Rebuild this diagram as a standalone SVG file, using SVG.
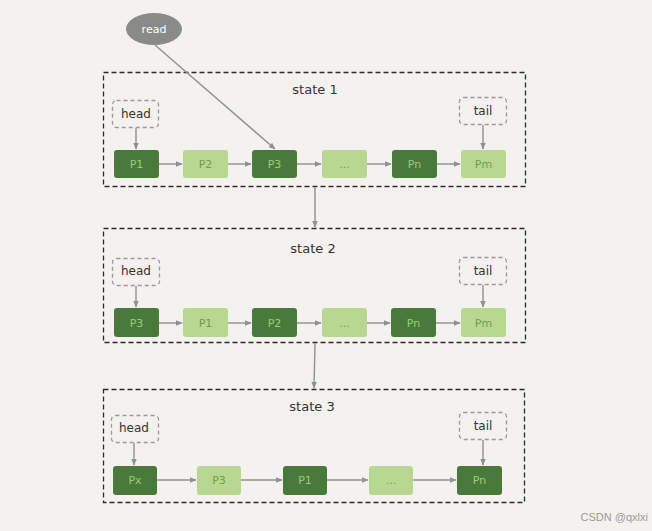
<svg xmlns="http://www.w3.org/2000/svg" width="652" height="531" viewBox="0 0 652 531">
<style>
.bg{fill:#f3f2ee}
.state{fill:none;stroke:#2b2b2b;stroke-width:1.3;stroke-dasharray:5 3}
.ptr{fill:none;stroke:#9a9a98;stroke-width:1.3;stroke-dasharray:4 3}
.dk{fill:#4a7a3b}
.lt{fill:#b8d891}
.tdk{fill:#9ccc78;font-family:"DejaVu Sans",sans-serif;font-size:11px;text-anchor:middle}
.tlt{fill:#6d9f4c;font-family:"DejaVu Sans",sans-serif;font-size:11px;text-anchor:middle}
.lbl{fill:#333;font-family:"DejaVu Sans",sans-serif;font-size:12px;text-anchor:middle}
.ttl{fill:#333;font-family:"DejaVu Sans",sans-serif;font-size:13px;text-anchor:middle}
.c{fill:none;stroke:#909090;stroke-width:1.4}
</style>
<defs>
<marker id="ah" viewBox="0 0 10 10" refX="9" refY="5" markerWidth="7" markerHeight="7" orient="auto" markerUnits="userSpaceOnUse">
<path d="M0,1 L10,5 L0,9 z" fill="#909090"/>
</marker>
</defs>
<rect class="bg" x="0" y="0" width="652" height="531"/>

<g id="read">
<ellipse cx="154" cy="29" rx="28" ry="16" fill="#8a8a86"/>
<text x="154" y="33" fill="#fff" font-family="DejaVu Sans,sans-serif" font-size="11" text-anchor="middle">read</text>
</g>

<g id="state1">
<rect class="state" x="103.5" y="72.5" width="422" height="114"/>
<text class="ttl" x="315" y="94">state 1</text>
</g>
<g id="s1-head"><rect class="ptr" x="112.5" y="100.5" width="46" height="27" rx="4"/><text class="lbl" x="136" y="118">head</text></g>
<g id="s1-tail"><rect class="ptr" x="459.5" y="97.5" width="47" height="27" rx="4"/><text class="lbl" x="483" y="115">tail</text></g>
<g id="s1-p1"><rect class="dk" x="114" y="150" width="45" height="28" rx="3"/><text class="tdk" x="136.5" y="168">P1</text></g>
<g id="s1-p2"><rect class="lt" x="183" y="150" width="45" height="28" rx="3"/><text class="tlt" x="205.5" y="168">P2</text></g>
<g id="s1-p3"><rect class="dk" x="252" y="150" width="45" height="28" rx="3"/><text class="tdk" x="274.5" y="168">P3</text></g>
<g id="s1-dots"><rect class="lt" x="322" y="150" width="45" height="28" rx="3"/><text class="tlt" x="344.5" y="168">...</text></g>
<g id="s1-pn"><rect class="dk" x="392" y="150" width="45" height="28" rx="3"/><text class="tdk" x="414.5" y="168">Pn</text></g>
<g id="s1-pm"><rect class="lt" x="461" y="150" width="45" height="28" rx="3"/><text class="tlt" x="483.5" y="168">Pm</text></g>

<g id="state2">
<rect class="state" x="103.5" y="228.5" width="422" height="114"/>
<text class="ttl" x="313" y="253">state 2</text>
</g>
<g id="s2-head"><rect class="ptr" x="112.5" y="258.5" width="47" height="27" rx="4"/><text class="lbl" x="136" y="275">head</text></g>
<g id="s2-tail"><rect class="ptr" x="459.5" y="257.5" width="47" height="27" rx="4"/><text class="lbl" x="483" y="275">tail</text></g>
<g id="s2-p3"><rect class="dk" x="114" y="308" width="45" height="29" rx="3"/><text class="tdk" x="136.5" y="327">P3</text></g>
<g id="s2-p1"><rect class="lt" x="183" y="308" width="45" height="29" rx="3"/><text class="tlt" x="205.5" y="327">P1</text></g>
<g id="s2-p2"><rect class="dk" x="252" y="308" width="45" height="29" rx="3"/><text class="tdk" x="274.5" y="327">P2</text></g>
<g id="s2-dots"><rect class="lt" x="322" y="308" width="45" height="29" rx="3"/><text class="tlt" x="344.5" y="327">...</text></g>
<g id="s2-pn"><rect class="dk" x="391" y="308" width="45" height="29" rx="3"/><text class="tdk" x="413.5" y="327">Pn</text></g>
<g id="s2-pm"><rect class="lt" x="461" y="308" width="45" height="29" rx="3"/><text class="tlt" x="483.5" y="327">Pm</text></g>

<g id="state3">
<rect class="state" x="103.5" y="389.5" width="421" height="113"/>
<text class="ttl" x="312" y="411">state 3</text>
</g>
<g id="s3-head"><rect class="ptr" x="111.5" y="415.5" width="47" height="27" rx="4"/><text class="lbl" x="134" y="432">head</text></g>
<g id="s3-tail"><rect class="ptr" x="459.5" y="412.5" width="47" height="27" rx="4"/><text class="lbl" x="483" y="430">tail</text></g>
<g id="s3-px"><rect class="dk" x="113" y="466" width="44" height="29" rx="3"/><text class="tdk" x="135" y="484">Px</text></g>
<g id="s3-p3"><rect class="lt" x="197" y="466" width="44" height="29" rx="3"/><text class="tlt" x="219" y="484">P3</text></g>
<g id="s3-p1"><rect class="dk" x="283" y="466" width="44" height="29" rx="3"/><text class="tdk" x="305" y="484">P1</text></g>
<g id="s3-dots"><rect class="lt" x="369" y="466" width="44" height="29" rx="3"/><text class="tlt" x="391" y="484">...</text></g>
<g id="s3-pn"><rect class="dk" x="457" y="466" width="45" height="29" rx="3"/><text class="tdk" x="479.5" y="484">Pn</text></g>

<g id="connectors">
<line class="c" x1="155" y1="45" x2="275" y2="149" marker-end="url(#ah)"/>
<line class="c" x1="136" y1="128" x2="136" y2="149" marker-end="url(#ah)"/>
<line class="c" x1="483" y1="125" x2="483" y2="149" marker-end="url(#ah)"/>
<line class="c" x1="159" y1="164" x2="182" y2="164" marker-end="url(#ah)"/>
<line class="c" x1="228" y1="164" x2="251" y2="164" marker-end="url(#ah)"/>
<line class="c" x1="297" y1="164" x2="321" y2="164" marker-end="url(#ah)"/>
<line class="c" x1="367" y1="164" x2="391" y2="164" marker-end="url(#ah)"/>
<line class="c" x1="437" y1="164" x2="460" y2="164" marker-end="url(#ah)"/>
<line class="c" x1="315" y1="187" x2="315" y2="227" marker-end="url(#ah)"/>

<line class="c" x1="136" y1="286" x2="136" y2="307" marker-end="url(#ah)"/>
<line class="c" x1="483" y1="285" x2="483" y2="307" marker-end="url(#ah)"/>
<line class="c" x1="159" y1="323" x2="182" y2="323" marker-end="url(#ah)"/>
<line class="c" x1="228" y1="323" x2="251" y2="323" marker-end="url(#ah)"/>
<line class="c" x1="297" y1="323" x2="321" y2="323" marker-end="url(#ah)"/>
<line class="c" x1="367" y1="323" x2="390" y2="323" marker-end="url(#ah)"/>
<line class="c" x1="436" y1="323" x2="460" y2="323" marker-end="url(#ah)"/>
<line class="c" x1="315" y1="343" x2="314" y2="388" marker-end="url(#ah)"/>

<line class="c" x1="134" y1="443" x2="134" y2="465" marker-end="url(#ah)"/>
<line class="c" x1="483" y1="440" x2="483" y2="465" marker-end="url(#ah)"/>
<line class="c" x1="157" y1="480" x2="196" y2="480" marker-end="url(#ah)"/>
<line class="c" x1="241" y1="480" x2="282" y2="480" marker-end="url(#ah)"/>
<line class="c" x1="327" y1="480" x2="368" y2="480" marker-end="url(#ah)"/>
<line class="c" x1="413" y1="480" x2="456" y2="480" marker-end="url(#ah)"/>
</g>

<text x="648" y="521" fill="#9a9a9a" font-family="Liberation Sans,Arial,sans-serif" font-size="11" text-anchor="end">CSDN @qxlxi</text>
</svg>
